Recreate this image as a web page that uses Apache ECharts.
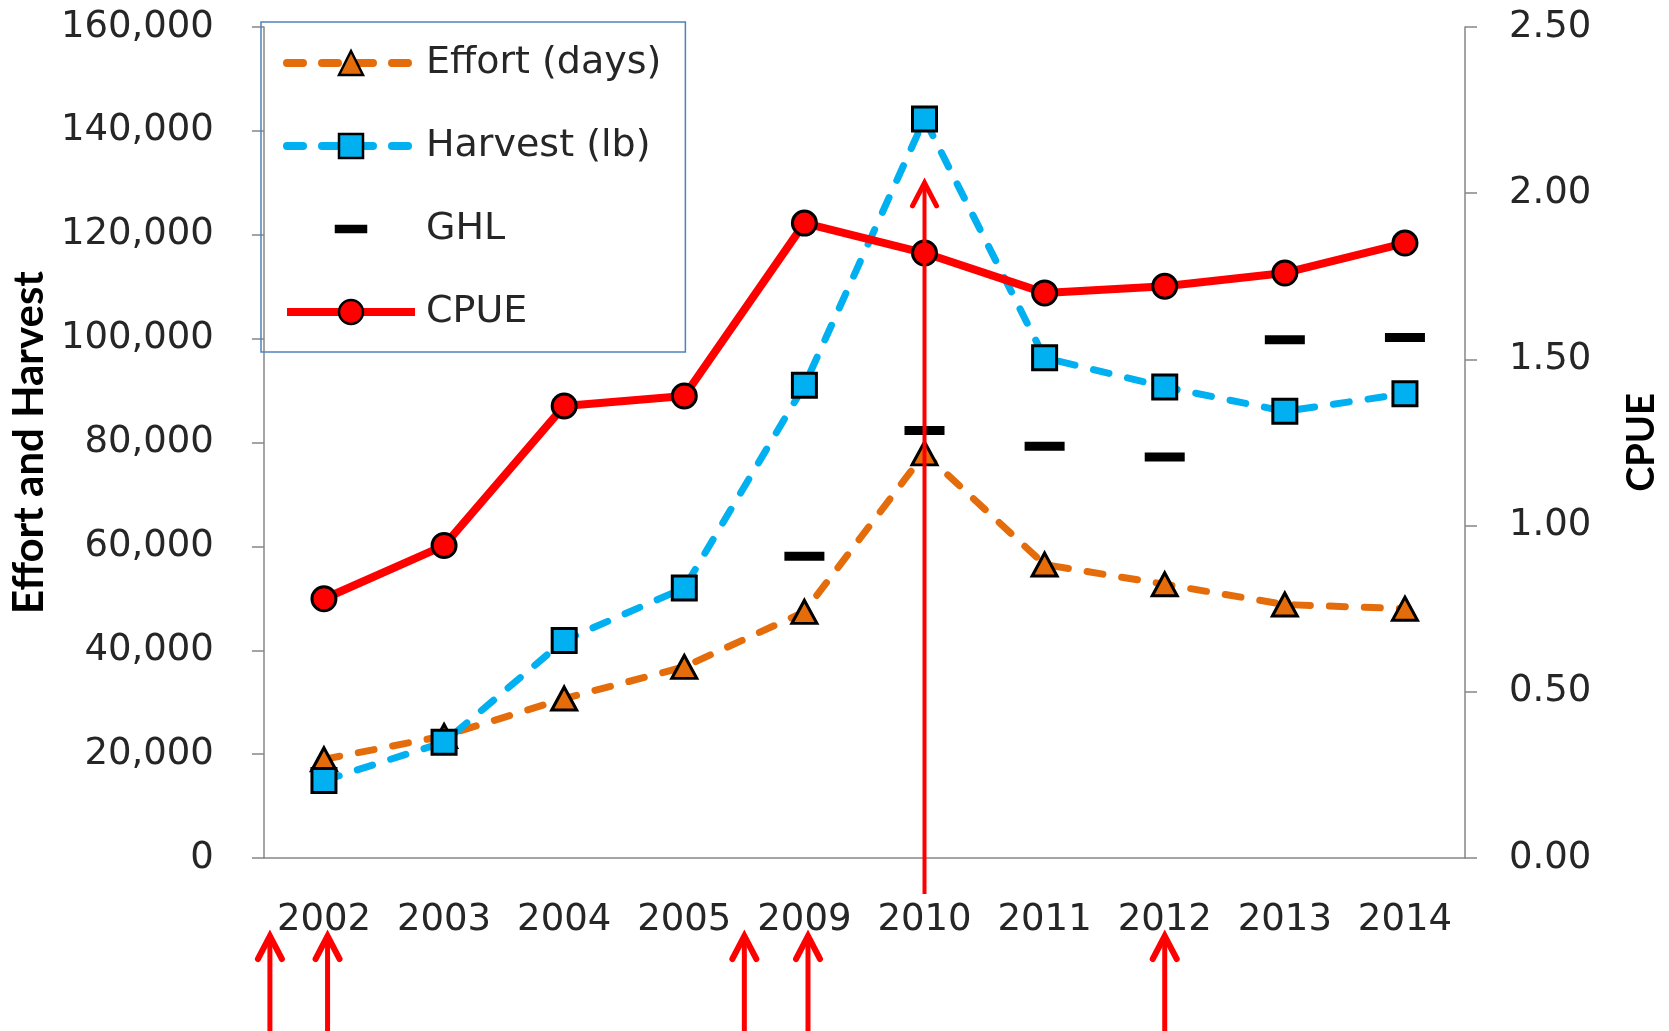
<!DOCTYPE html>
<html>
<head>
<meta charset="utf-8">
<script src="https://cdn.jsdelivr.net/npm/echarts@6/dist/echarts.min.js"></script>
<style>
  html, body { margin: 0; padding: 0; background: #ffffff; }
  #chart { width: 1669px; height: 1031px; }
</style>
</head>
<body>
<div id="chart"></div>
<script>
// data
var years = ['2002', '2003', '2004', '2005', '2009', '2010', '2011', '2012', '2013', '2014'];
var effort = [19000, 23500, 30700, 36800, 47400, 77900, 56500, 52700, 48800, 48000];
var harvest = [14900, 22300, 41900, 52000, 91000, 142300, 96300, 90700, 86000, 89400];
var ghl = [null, null, null, null, 58100, 82300, 79300, 77200, 99800, 100200];
var cpue = [0.78, 0.94, 1.36, 1.39, 1.91, 1.82, 1.70, 1.72, 1.76, 1.85];

// red arrows drawn on top of the chart (category positions)
var arrowsBelow = [-0.45, 0.03, 3.5, 4.03, 7];
var bigArrowAt = 5;
var bigArrowTip = 130000;

var tickFont = 'DejaVu Sans';
var nameFont = 'Lato';
var grey = '#868686';

var chart = echarts.init(document.getElementById('chart'));

chart.setOption({
    animation: false,
    grid: { left: 262, right: 204, top: 27, bottom: 173 },
    legend: {
        orient: 'vertical',
        left: 261,
        top: 22,
        padding: [21, 24, 20, 22],
        itemWidth: 128,
        itemHeight: 30,
        itemGap: 43,
        borderColor: '#4F81BD',
        borderWidth: 1.5,
        selectedMode: false,
        textStyle: { fontFamily: tickFont, fontSize: 38, color: '#262626', lineHeight: 40, padding: [0, 0, 0, 6] },
        lineStyle: { width: 8 },
        itemStyle: { borderWidth: 2.5, borderColor: '#000' },
        data: [
            'Effort (days)',
            'Harvest (lb)',
            { name: 'GHL', icon: 'path://M0,0 M128,30 M49,12 h30 v6 h-30 z' },
            'CPUE'
        ]
    },
    xAxis: {
        type: 'category',
        data: years,
        axisLine: { lineStyle: { color: grey, width: 1.5 } },
        axisTick: { length: 16, lineStyle: { color: grey, width: 1.5 } },
        axisLabel: { fontFamily: tickFont, fontSize: 37, color: '#262626', margin: 44, interval: 0 }
    },
    yAxis: [
        {
            type: 'value',
            position: 'left',
            min: 0,
            max: 160000,
            interval: 20000,
            name: 'Effort and Harvest',
            nameLocation: 'middle',
            nameGap: 208,
            nameRotate: 90,
            nameTextStyle: { fontFamily: nameFont, fontWeight: 'bold', fontSize: 42, color: '#000' },
            axisLine: { show: true, lineStyle: { color: grey, width: 1.5 } },
            axisTick: { show: true, length: 12, lineStyle: { color: grey, width: 1.5 } },
            splitLine: { show: false },
            axisLabel: {
                fontFamily: tickFont, fontSize: 37, color: '#262626', margin: 50,
                formatter: function (v) { return v.toLocaleString('en-US'); }
            }
        },
        {
            type: 'value',
            position: 'right',
            min: 0,
            max: 2.5,
            interval: 0.5,
            name: 'CPUE',
            nameLocation: 'middle',
            nameGap: 158,
            nameRotate: 90,
            nameTextStyle: { fontFamily: nameFont, fontWeight: 'bold', fontSize: 38, color: '#000' },
            axisLine: { show: true, lineStyle: { color: grey, width: 1.5 } },
            axisTick: { show: true, length: 12, lineStyle: { color: grey, width: 1.5 } },
            splitLine: { show: false },
            axisLabel: {
                fontFamily: tickFont, fontSize: 37, color: '#262626', margin: 44,
                formatter: function (v) { return v.toFixed(2); }
            }
        }
    ],
    series: [
        {
            name: 'Effort (days)',
            type: 'line',
            data: effort,
            symbol: 'triangle',
            symbolSize: [25, 23],
            lineStyle: { color: '#E46C0A', width: 7, type: [16, 19], cap: 'round' },
            itemStyle: { color: '#E46C0A', borderColor: '#000', borderWidth: 3 },
            z: 3
        },
        {
            name: 'Harvest (lb)',
            type: 'line',
            data: harvest,
            symbol: 'rect',
            symbolSize: 24,
            lineStyle: { color: '#00B0F0', width: 7, type: [16, 19], cap: 'round' },
            itemStyle: { color: '#00B0F0', borderColor: '#000', borderWidth: 3 },
            z: 4
        },
        {
            name: 'GHL',
            type: 'scatter',
            data: ghl,
            symbol: 'rect',
            symbolSize: [40, 9],
            itemStyle: { color: '#000', opacity: 1 },
            z: 2
        },
        {
            name: 'CPUE',
            type: 'line',
            yAxisIndex: 1,
            data: cpue,
            symbol: 'circle',
            symbolSize: 24,
            lineStyle: { color: '#FF0000', width: 8 },
            itemStyle: { color: '#FF0000', borderColor: '#000', borderWidth: 3 },
            z: 5
        }
    ]
});

// arrows: positions come from the axes
function catX(pos) {
    var x0 = chart.convertToPixel({ xAxisIndex: 0 }, 0);
    var x1 = chart.convertToPixel({ xAxisIndex: 0 }, 1);
    return x0 + pos * (x1 - x0);
}

function arrow(x, yTip, yEnd, w) {
    return [
        { type: 'line', z: 100, shape: { x1: x, y1: yTip + 3, x2: x, y2: yEnd }, style: { stroke: '#FF0000', lineWidth: w } },
        { type: 'polyline', z: 100, shape: { points: [[x - 12, yTip + 23], [x, yTip], [x + 12, yTip + 23]] }, style: { stroke: '#FF0000', lineWidth: w + 1, fill: null, lineCap: 'round' } }
    ];
}

var axisY = chart.convertToPixel({ yAxisIndex: 0 }, 0);
var marks = [];
arrowsBelow.forEach(function (p) {
    marks = marks.concat(arrow(catX(p), axisY + 78, 1031, 5));
});
marks = marks.concat(arrow(catX(bigArrowAt), chart.convertToPixel({ yAxisIndex: 0 }, bigArrowTip), axisY + 36, 4));

chart.setOption({ graphic: marks });
</script>
</body>
</html>
